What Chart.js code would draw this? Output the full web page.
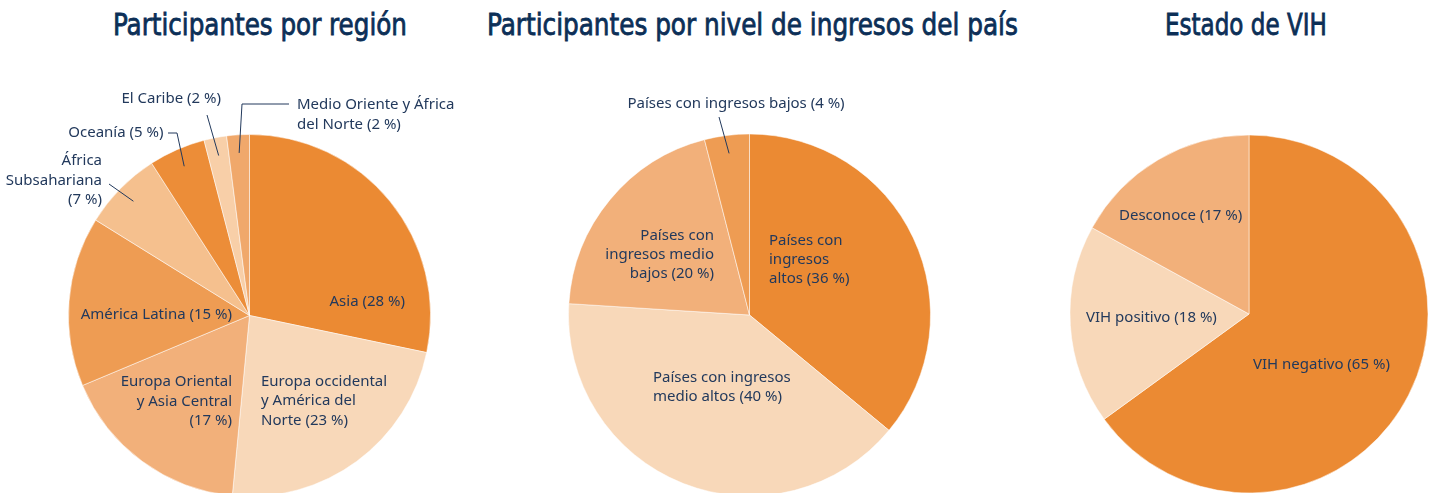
<!DOCTYPE html>
<html lang="es">
<head>
<meta charset="utf-8">
<title>Participantes</title>
<script src="https://cdn.jsdelivr.net/npm/chart.js@4.4.1/dist/chart.umd.min.js"></script>
<style>
    html, body { margin: 0; padding: 0; background: #fff; overflow: hidden; }
    body { width: 1434px; height: 493px; position: relative; }
    canvas { position: absolute; left: 0; top: 0; }
    .chart-title {
        position: absolute;
        top: 9px;
        white-space: nowrap;
        font-family: 'Liberation Sans Narrow', 'DejaVu Sans Condensed', 'Roboto', sans-serif;
        font-stretch: condensed;
        font-weight: normal;
        font-size: 31px;
        line-height: 31px;
        color: #0c2f57;
        -webkit-text-stroke: 0.8px #0c2f57;
        transform-origin: left top;
    }
</style>
</head>
<body>
<div class="chart-title" data-center="260" data-width="294">Participantes por región</div>
<div class="chart-title" data-center="752" data-width="531">Participantes por nivel de ingresos del país</div>
<div class="chart-title" data-center="1246" data-width="162">Estado de VIH</div>

<canvas id="region-chart" width="1434" height="520"></canvas>
<canvas id="income-chart" width="1434" height="520"></canvas>
<canvas id="hiv-chart" width="1434" height="520"></canvas>

<script>
// data
const regionLabels = [
    ['Asia'],
    ['Europa occidental', 'y América del', 'Norte'],
    ['Europa Oriental', 'y Asia Central'],
    ['América Latina'],
    ['África', 'Subsahariana'],
    ['Oceanía'],
    ['El Caribe'],
    ['Medio Oriente y África', 'del Norte'],
];
const regionValues = [28, 23, 17, 15, 7, 5, 2, 2];

const incomeLabels = [
    ['Países con', 'ingresos', 'altos'],
    ['Países con ingresos', 'medio altos'],
    ['Países con', 'ingresos medio', 'bajos'],
    ['Países con ingresos bajos'],
];
const incomeValues = [36, 40, 20, 4];

const hivLabels = [['VIH negativo'], ['VIH positivo'], ['Desconoce']];
const hivValues = [65, 18, 17];

// styles
const regionColors = ['#eb8a33', '#f8d8b9', '#f2b07a', '#ee9c53', '#f5c08e', '#ec8d38', '#f8cfa8', '#f0a86b'];
const incomeColors = ['#eb8a33', '#f8d8b9', '#f2b07a', '#ee9c53'];
const hivColors = ['#eb8a33', '#f8d8b9', '#f2b07a'];

const NAVY = '#22395c';
const PAGE_W = 1434;
const PAGE_H = 520;

// label placement, relative to the pie centre (first line baseline)
const regionSpots = [
    { dx: 155.5, dy: -9.5, align: 'right' },
    { dx: 11.5, dy: 70, align: 'left' },
    { dx: -17.5, dy: 70.5, align: 'right', pctLine: true },
    { dx: -17.5, dy: 3.5, align: 'right' },
    { dx: -147.5, dy: -150.5, align: 'right', pctLine: true, leader: [[-140.5, -131.5]] },
    { dx: -86, dy: -179, align: 'right', leader: [[-72.5, -182.5], [-81.5, -182.5]] },
    { dx: -28.5, dy: -213, align: 'right', leader: [[-42.5, -200.5]] },
    { dx: 47.5, dy: -206.5, align: 'left', leader: [[-7.5, -211.5], [39.5, -211.5]] },
];
const incomeSpots = [
    { dx: 19.5, dy: -70, align: 'left' },
    { dx: -96.5, dy: 67, align: 'left' },
    { dx: -35.5, dy: -75, align: 'right' },
    { dx: -13.5, dy: -207, align: 'center', leader: [[-30.5, -198]] },
];
const hivSpots = [
    { dx: 4, dy: 55, align: 'left' },
    { dx: -163, dy: 8, align: 'left' },
    { dx: -130, dy: -94, align: 'left' },
];

const sliceLabels = {
    id: 'sliceLabels',
    afterDatasetsDraw(chart, args, opts) {
        const { ctx } = chart;
        const meta = chart.getDatasetMeta(0);
        const values = chart.data.datasets[0].data;

        ctx.save();
        ctx.font = '15px "Noto Sans", "Open Sans", sans-serif';
        ctx.fillStyle = NAVY;
        ctx.strokeStyle = NAVY;
        ctx.lineWidth = 1;
        ctx.textBaseline = 'alphabetic';

        meta.data.forEach((arc, i) => {
            const spot = opts.spots[i];
            const { x, y, outerRadius, startAngle, endAngle } = arc.getProps(['x', 'y', 'outerRadius', 'startAngle', 'endAngle'], true);
            const lines = chart.data.labels[i].slice();
            const pct = `(${values[i]} %)`;

            if (spot.pctLine) {
                lines.push(pct);
            } else {
                lines[lines.length - 1] += ' ' + pct;
            }

            if (spot.leader) {
                const mid = (startAngle + endAngle) / 2;
                const rr = outerRadius * 0.9;
                ctx.beginPath();
                ctx.moveTo(x + Math.cos(mid) * rr, y + Math.sin(mid) * rr);
                spot.leader.forEach(([px, py]) => ctx.lineTo(x + px, y + py));
                ctx.stroke();
            }

            ctx.textAlign = spot.align;
            lines.forEach((line, k) => {
                ctx.fillText(line, x + spot.dx, y + spot.dy + k * opts.lineHeight);
            });
        });

        ctx.restore();
    },
};

const makePie = (canvasId, labels, values, colors, spots, cx, cy, r, lineHeight) => {
    const R = r + 0.5;
    return new Chart(document.getElementById(canvasId), {
        type: 'pie',
        data: {
            labels,
            datasets: [{
                data: values,
                backgroundColor: colors,
                borderColor: 'rgba(255, 255, 255, 0.5)',
                borderWidth: 1,
            }],
        },
        options: {
            responsive: false,
            animation: false,
            layout: {
                padding: {
                    left: cx - R,
                    top: cy - R,
                    right: PAGE_W - (cx + R),
                    bottom: PAGE_H - (cy + R),
                },
            },
            plugins: {
                legend: { display: false },
                tooltip: { enabled: false },
                sliceLabels: { spots, lineHeight },
            },
        },
        plugins: [sliceLabels],
    });
};

makePie('region-chart', regionLabels, regionValues, regionColors, regionSpots, 249.5, 315.5, 181, 19.6);
makePie('income-chart', incomeLabels, incomeValues, incomeColors, incomeSpots, 749.5, 315, 181, 19);
makePie('hiv-chart', hivLabels, hivValues, hivColors, hivSpots, 1249, 314, 179, 19);

// squeeze the titles to the width they have in the original
document.querySelectorAll('.chart-title').forEach((el) => {
    const target = Number(el.dataset.width);
    const center = Number(el.dataset.center);
    const k = target / el.offsetWidth;
    el.style.left = (center - target / 2) + 'px';
    el.style.transform = `scaleX(${k})`;
});
</script>
</body>
</html>
